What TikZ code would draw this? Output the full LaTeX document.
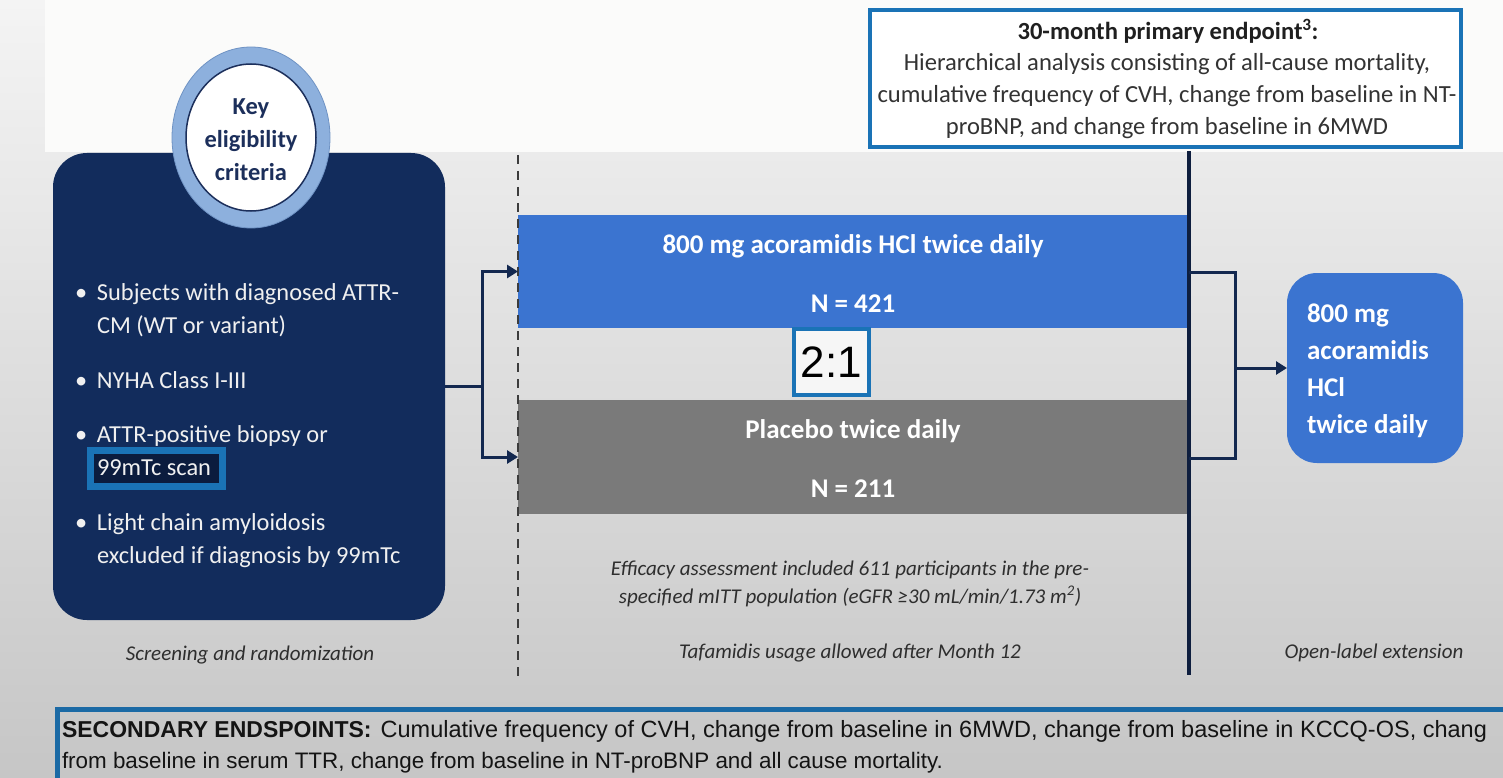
\documentclass[tikz,border=0pt]{standalone}
\usepackage{fontspec}
\setmainfont{Carlito}
\newfontfamily\arialfont{Liberation Sans}
\usetikzlibrary{arrows.meta,shapes.geometric}
\definecolor{bgtop}{HTML}{F4F4F4}
\definecolor{bgbot}{HTML}{C6C6C6}
\definecolor{bgwhite}{HTML}{FBFBFA}
\definecolor{navy}{HTML}{122C5C}
\definecolor{ringblue}{HTML}{8DB0DD}
\definecolor{ringedge}{HTML}{6F93C4}
\definecolor{barblue}{HTML}{3B74D0}
\definecolor{bargray}{HTML}{7A7A7A}
\definecolor{framebl}{HTML}{1A73B6}
\definecolor{linenavy}{HTML}{13284F}
\definecolor{vnavy}{HTML}{0E1E3E}
\definecolor{txtnavy}{HTML}{1C2F5B}
\definecolor{txtdark}{HTML}{2E2E2E}
\definecolor{hldark}{HTML}{0B1C3E}
\definecolor{secblue}{HTML}{1B6AA5}
\definecolor{boxwhite}{HTML}{F6F6F6}
\definecolor{dashgray}{HTML}{3C3C3C}
\newcommand\critfont{\fontsize{24.4}{33}\selectfont}
\newcommand\keyfont{\bfseries\fontsize{24.4}{33}\selectfont}
\newcommand\barfont{\bfseries\fontsize{27}{37}\selectfont}
\newcommand\primfont{\fontsize{24.6}{32}\selectfont}
\newcommand\notefont{\itshape\fontsize{21}{28}\selectfont}
\newcommand\bitem{\par\hangindent=22pt\hangafter=1\noindent\makebox[22pt][l]{•}}
\tikzset{
  conn/.style={draw=linenavy, line width=3pt},
  arrowend/.style={-{Triangle[length=11pt,width=13pt]}},
  lbl/.style={inner sep=0pt, anchor=base},
  blk/.style={inner sep=0pt, outer sep=0pt},
}
\begin{document}
\begin{tikzpicture}[x=1pt,y=-1pt]
\useasboundingbox (0,0) rectangle (1503,778);
\begin{scope}
\clip (0,0) rectangle (1503,778);
% background
\shade[top color=bgtop, bottom color=bgbot] (0,0) rectangle (1503,778);
\fill[bgwhite] (45,0) rectangle (1503,152);

% eligibility panel
\node (elig) [blk, fill=navy, rounded corners=34pt, minimum width=392pt, minimum height=467pt] at (249,386.5) {};
\node (ring) [blk, ellipse, fill=ringblue, draw=ringedge, line width=0.8pt, minimum width=158pt, minimum height=181pt] at (251,137.5) {};
\node (keyc) [blk, ellipse, fill=white, draw=txtnavy, line width=1.5pt, minimum width=130pt, minimum height=147pt] at (251,137.5) {};
\node (keyt) [blk, align=center, text=txtnavy, font=\keyfont] at (251,140) {Key\\eligibility\\criteria};

\node (hl) [blk, draw=framebl, line width=7pt, fill=hldark, minimum width=132pt, minimum height=36pt] at (156.5,468.5) {};
\node (crit) [blk, anchor=base west, text=white!94!black] at (75,300) {\parbox[t]{360pt}{\critfont
\bitem Subjects with diagnosed ATTR-\newline CM (WT or variant)\par\vspace{22pt}
\bitem NYHA Class I-III\par\vspace{21pt}
\bitem ATTR-positive biopsy or\newline 99mTc scan\par\vspace{22pt}
\bitem Light chain amyloidosis\newline excluded if diagnosis by 99mTc}};

\node (scr) [lbl, font=\notefont, text=txtdark] at (250,660) {Screening and randomization};

% arms
\node (armA) [blk, fill=barblue, minimum width=672pt, minimum height=113pt] at (854,271.5) {};
\node (armB) [blk, fill=bargray, minimum width=672pt, minimum height=114pt] at (854,457) {};
\node (armAt1) [lbl, font=\barfont, text=white] at (853,253) {800 mg acoramidis HCl twice daily};
\node (armAt2) [lbl, font=\barfont, text=white] at (853,312) {N = 421};
\node (armBt1) [lbl, font=\barfont, text=white] at (853,438) {Placebo twice daily};
\node (armBt2) [lbl, font=\barfont, text=white] at (853,497) {N = 211};
\node (ratio) [blk, draw=framebl, line width=4pt, fill=boxwhite, minimum width=75pt, minimum height=66pt, font=\arialfont\fontsize{44}{44}\selectfont] at (831.5,362) {2:1};

% dashed separator
\coordinate (dtop) at (518,155);
\coordinate (dbot) at (518,676);
\draw[draw=dashgray, line width=2pt, dash pattern=on 9pt off 7pt] (dtop) -- (dbot);

% left connectors
\coordinate (split) at (482,386.5);
\draw[conn] (elig.east) -- (split);
\draw[conn, arrowend] (split) |- (armA.west);
\draw[conn, arrowend] (split) |- (armB.west);

% primary endpoint box
\node (prim) [blk, draw=framebl, line width=4pt, fill=white, minimum width=591pt, minimum height=137pt] at (1165.5,78.5) {};
\node (primt) [lbl, font=\bfseries\primfont, text=black!88] at (1168,40) {30-month primary endpoint\textsuperscript{3}:};
\node (primb) [blk, anchor=base, text=black!80] at (1167,71) {\parbox[t]{620pt}{\centering\primfont Hierarchical analysis consisting of all-cause mortality,\\cumulative frequency of CVH, change from baseline in NT-\\proBNP, and change from baseline in 6MWD}};

% vertical divider
\coordinate (vtop) at (1189,151);
\coordinate (vbot) at (1189,675);
\draw[draw=vnavy, line width=3.5pt] (vtop) -- (vbot);

% open-label extension
\node (ole) [blk, fill=barblue, rounded corners=30pt, minimum width=176pt, minimum height=190pt] at (1375,368) {};
\node (olet) [blk, anchor=base west, text=white] at (1307,322) {\parbox[t]{160pt}{\raggedright\barfont 800 mg\\acoramidis\\HCl\\twice daily}};
\coordinate (bt) at (1189,272);
\coordinate (bb) at (1189,458);
\coordinate (bjt) at (1235,272);
\coordinate (bjb) at (1235,458);
\coordinate (bmid) at (1235,368);
\draw[conn] (bt) -- (bjt) -- (bjb) -- (bb);
\draw[conn, arrowend] (bmid) -- (ole.west);

% notes
\node (eff) [blk, anchor=base, text=txtdark] at (850,575) {\parbox[t]{620pt}{\centering\notefont Efficacy assessment included 611 participants in the pre-\\specified mITT population (eGFR ≥30 mL/min/1.73 m\textsuperscript{2})}};
\node (taf) [lbl, font=\notefont, text=txtdark] at (850,658) {Tafamidis usage allowed after Month 12};
\node (olel) [lbl, font=\notefont, text=txtdark] at (1374,658) {Open-label extension};

% secondary endpoints
\node (sec) [blk, draw=secblue, line width=5pt, minimum width=1500pt, minimum height=100pt, anchor=north west] at (57.5,709.5) {};
\node (sect1) [blk, anchor=base west, text=black!92] at (62,737) {\arialfont{\bfseries\fontsize{23}{28}\selectfont SECONDARY ENDSPOINTS:}\hspace{9pt}{\fontsize{23.5}{26}\selectfont Cumulative frequency of CVH, change from baseline in 6MWD, change from baseline in KCCQ-OS, chang}};
\node (sect2) [blk, anchor=base west, text=black!92] at (62,768) {\arialfont\fontsize{22.4}{26}\selectfont from baseline in serum TTR, change from baseline in NT-proBNP and all cause mortality.};
\end{scope}
\end{tikzpicture}
\end{document}
